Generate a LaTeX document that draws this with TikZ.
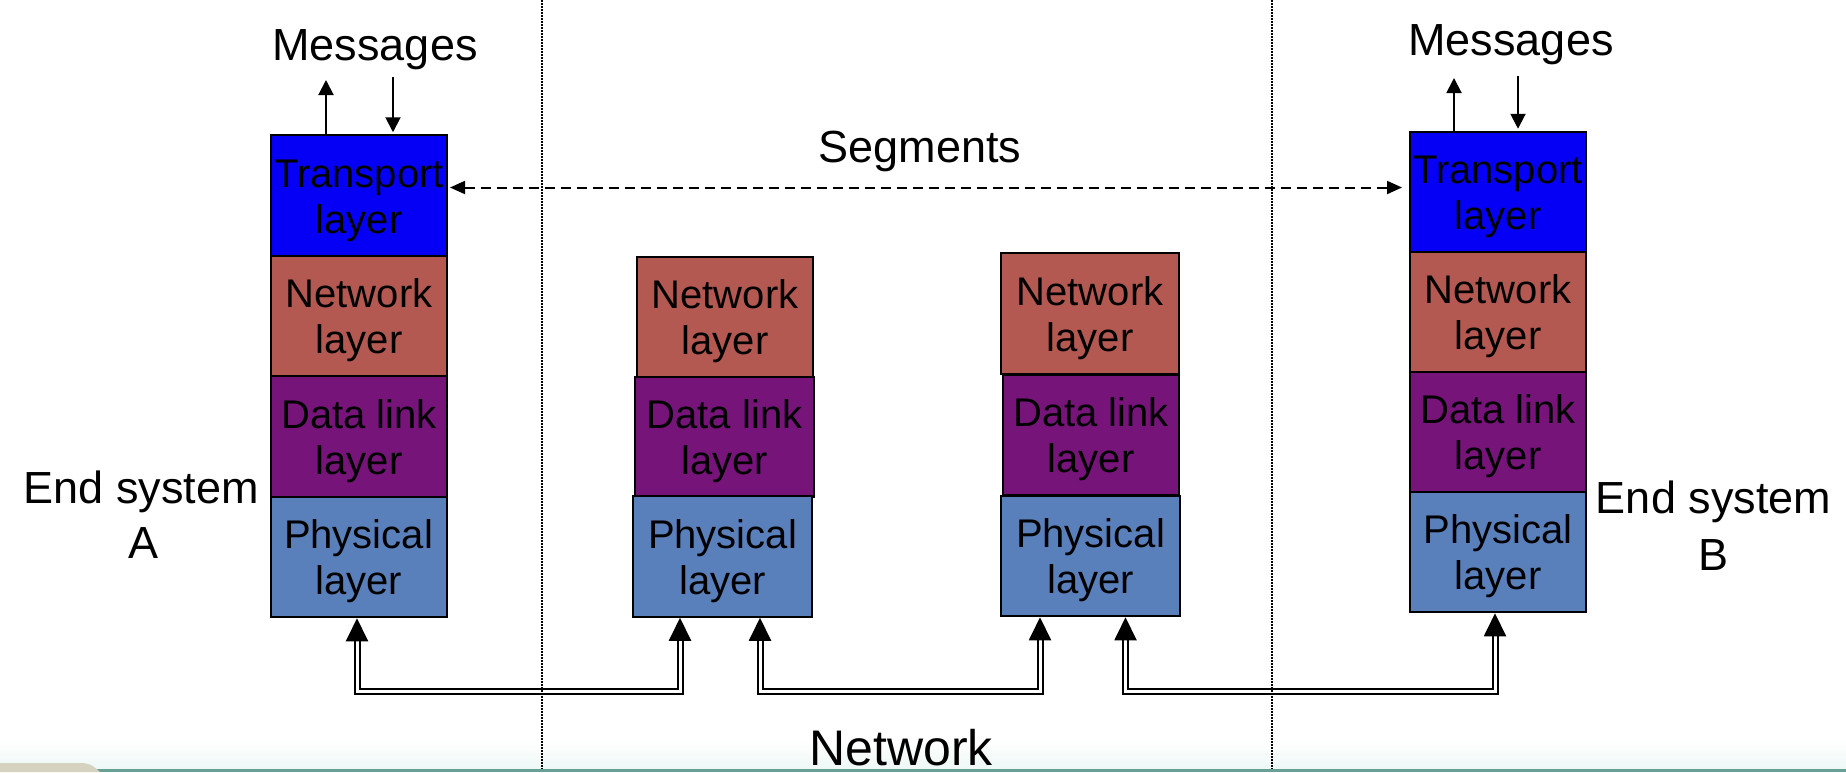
\documentclass[tikz,border=0pt]{standalone}
\usepackage{fontspec}
\setmainfont{Liberation Sans}
\usetikzlibrary{arrows.meta,calc}
\definecolor{trblue}{RGB}{5,0,245}
\definecolor{netred}{RGB}{180,89,82}
\definecolor{dlpurp}{RGB}{118,20,122}
\definecolor{phblue}{RGB}{90,128,187}
\definecolor{stripcol}{RGB}{104,160,148}
\definecolor{beigecol}{RGB}{214,210,192}
\definecolor{tintcol}{RGB}{238,248,246}
\begin{document}
\begin{tikzpicture}[x=1pt,y=-1pt,
  layerbox/.style={draw=black, line width=2pt, inner sep=0pt, minimum width=176pt,
    minimum height=120.5pt, align=center, text height=84pt, font=\fontsize{40}{46}\selectfont},
  lbl/.style={inner sep=0pt, font=\fontsize{45}{54}\selectfont, anchor=base},
  msgarrow/.style={line width=2pt, -{Triangle[width=15pt,length=15pt]}},
  segline/.style={line width=2pt, dash pattern=on 10pt off 6pt,
    {Triangle[width=13pt,length=15pt]}-{Triangle[width=13pt,length=15pt]}},
  bus/.style={line width=2pt, double distance=3pt, double=white,
    {Triangle[width=22pt,length=23pt]}-{Triangle[width=22pt,length=23pt]}},
  sepline/.style={line width=1.5pt, dash pattern=on 1.5pt off 1.5pt}
]
\useasboundingbox (0,0) rectangle (1846,772);
% bottom tint
\fill[top color=white, bottom color=tintcol, draw=none] (0,740) rectangle (1846,768.5);

% Stack A
\node[layerbox, fill=trblue] (Atr) at (359,195.5) {Transport\\layer};
\node[layerbox, fill=netred] (Anet) at (359,316) {Network\\layer};
\node[layerbox, fill=dlpurp] (Adl) at (359,436.5) {Data link\\layer};
\node[layerbox, fill=phblue] (Aph) at (358.5,557) {Physical\\layer};

% Stack 2
\node[layerbox, fill=netred, minimum width=176pt] (Snet) at (725,317) {Network\\layer};
\node[layerbox, fill=dlpurp, minimum width=179pt] (Sdl) at (724.5,437) {Data link\\layer};
\node[layerbox, fill=phblue, minimum width=179pt] (Sph) at (722.5,556.5) {Physical\\layer};

% Stack 3
\node[layerbox, fill=netred, minimum width=178pt] (Tnet) at (1090,313.5) {Network\\layer};
\node[layerbox, fill=dlpurp, minimum width=176pt] (Tdl) at (1091,435) {Data link\\layer};
\node[layerbox, fill=phblue, minimum width=179pt] (Tph) at (1090.5,556) {Physical\\layer};

% Stack B
\node[layerbox, fill=trblue] (Btr) at (1498,192) {Transport\\layer};
\node[layerbox, fill=netred] (Bnet) at (1498,312) {Network\\layer};
\node[layerbox, fill=dlpurp] (Bdl) at (1498,432) {Data link\\layer};
\node[layerbox, fill=phblue] (Bph) at (1498,552) {Physical\\layer};

% Labels
\node[lbl] (msgA) at (375,60) {Messages};
\node[lbl] (msgB) at (1511,55) {Messages};
\node[lbl] (seg) at (920,162) {Segments};
\node[lbl] (esA1) at (141.5,503) {End system};
\node[lbl] (esA2) at (144,558) {A};
\node[lbl] (esB1) at (1713.5,513) {End system};
\node[lbl] (esB2) at (1713,570) {B};
\node[lbl, font=\fontsize{50}{60}\selectfont] (netlbl) at (901,765) {Network};

% Message arrows
\coordinate (mAup) at (326,80);
\coordinate (mAdn) at (393,77);
\coordinate (mBup) at (1454,78);
\coordinate (mBdn) at (1518,76);
\draw[msgarrow] ([xshift=-33pt]Atr.north) -- (mAup);
\draw[msgarrow, shorten >=2pt] (mAdn) -- ([xshift=34pt]Atr.north);
\draw[msgarrow] ([xshift=-44pt]Btr.north) -- (mBup);
\draw[msgarrow, shorten >=2pt] (mBdn) -- ([xshift=20pt]Btr.north);

% Segments
\coordinate (segy) at (0,187.5);
\draw[segline, shorten <=2pt, shorten >=7pt] (Atr.east |- segy) -- (Btr.west |- segy);

% Bus connectors
\coordinate (busy) at (0,691);
\coordinate (a1) at ([xshift=-1.5pt]Aph.south);
\coordinate (b1) at ([xshift=-42.5pt]Sph.south);
\coordinate (b2) at ([xshift=37.5pt]Sph.south);
\coordinate (c1) at ([xshift=-50.5pt]Tph.south);
\coordinate (c2) at ([xshift=35pt]Tph.south);
\coordinate (d1) at ([xshift=-3pt]Bph.south);
\draw[bus] (a1) -- (a1 |- busy) -| (b1);
\draw[bus] (b2) -- (b2 |- busy) -| (c1);
\draw[bus] (c2) -- (c2 |- busy) -| (d1);

% Separators
\draw[sepline] (542,0) -- (542,772);
\draw[sepline] (1272,0) -- (1272,772);

% bottom strip
\fill[stripcol] (95,768.5) rectangle (1846,772);
\fill[beigecol] (0,763) -- (80,763) .. controls (92,763) and (95,768) .. (100,772) -- (0,772) -- cycle;
\end{tikzpicture}
\end{document}
